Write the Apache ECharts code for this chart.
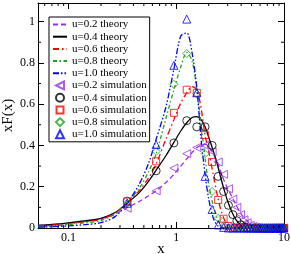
<!DOCTYPE html>
<html><head><meta charset="utf-8">
<script src="https://cdn.jsdelivr.net/npm/echarts@6/dist/echarts.min.js"></script>
<style>html,body{margin:0;padding:0;background:#fff}#c{width:291px;height:254px}</style>
</head><body><div id="c"></div>
<script>
const X_MIN = 0.052, X_MAX = 10, Y_MIN = 0, Y_MAX = 1.09;

const xTheory = [0.052,0.07,0.1,0.14,0.2,0.27,0.35,0.45,0.55,0.65,0.8,0.95,1.1,1.25,1.4,1.55,1.7,1.85,2.0,2.2,2.4,2.6,2.8,3.0,3.3,3.6,4.0,4.5,5.0,5.5,6.0,7.0,8.5,10];
const th02 = [0.012,0.016,0.023,0.032,0.045,0.068,0.098,0.128,0.155,0.18,0.22,0.26,0.30,0.335,0.365,0.39,0.40,0.405,0.395,0.36,0.32,0.27,0.225,0.19,0.15,0.11,0.068,0.036,0.016,0.007,0.003,0,0,0];
const th04 = [0.012,0.017,0.025,0.034,0.047,0.075,0.12,0.17,0.225,0.28,0.35,0.415,0.47,0.51,0.535,0.54,0.525,0.49,0.44,0.375,0.31,0.24,0.18,0.13,0.075,0.038,0.014,0.003,0,0,0,0,0,0];
const th06 = [0.01,0.014,0.021,0.03,0.042,0.072,0.125,0.18,0.24,0.31,0.43,0.525,0.605,0.655,0.685,0.67,0.58,0.45,0.37,0.26,0.16,0.085,0.04,0.015,0.003,0,0,0,0,0,0,0,0,0];
const th08 = [0.007,0.01,0.016,0.025,0.036,0.068,0.125,0.19,0.27,0.36,0.53,0.67,0.78,0.85,0.81,0.67,0.5,0.34,0.21,0.11,0.045,0.015,0.004,0,0,0,0,0,0,0,0,0,0,0];
const th10 = [0.004,0.006,0.01,0.016,0.026,0.055,0.12,0.21,0.31,0.43,0.585,0.77,0.93,0.945,0.85,0.68,0.43,0.26,0.14,0.05,0.013,0.003,0,0,0,0,0,0,0,0,0,0,0,0];

const xSim = [0.35,0.65,0.95,1.25,1.55,1.85,2.15,2.45,2.75,3.05,3.35,3.65,3.95,4.25,4.55,4.85,5.15,5.45,5.75,6.05,6.35,6.65,6.95,7.25,7.55,7.85,8.15,8.45,8.75,9.05,9.35,9.65,9.95];
const sim02 = [0.096,0.18,0.29,0.36,0.39,0.40,0.37,0.32,0.26,0.19,0.14,0.10,0.065,0.04,0.025,0.013,0.007,0.003,0.001,0,0,0,0,0,0,0,0,0,0,0,0,0,0];
const sim04 = [0.13,0.277,0.412,0.52,0.49,0.49,0.40,0.25,0.177,0.11,0.065,0.035,0.015,0.005,0.001,0,0,0,0,0,0,0,0,0,0,0,0,0,0,0,0,0,0];
const sim06 = [0.128,0.323,0.558,0.67,0.655,0.45,0.32,0.136,0.045,0.01,0.002,0,0,0,0,0,0,0,0,0,0,0,0,0,0,0,0,0,0,0,0,0,0];
const sim08 = [0.12,0.371,0.696,0.845,0.65,0.36,0.177,0.047,0.01,0.002,0,0,0,0,0,0,0,0,0,0,0,0,0,0,0,0,0,0,0,0,0,0,0];
const sim10 = [0.12,0.404,0.788,1.012,0.655,0.25,0.09,0.015,0.003,0,0,0,0,0,0,0,0,0,0,0,0,0,0,0,0,0,0,0,0,0,0,0,0];

const xMinorTicks = [0.06,0.07,0.08,0.09,0.2,0.3,0.4,0.5,0.6,0.7,0.8,0.9,2,3,4,5,6,7,8,9];
const yMinorTicks = [0.1,0.3,0.5,0.7,0.9];

const theoryNames = ['u=0.2 theory','u=0.4 theory','u=0.6 theory','u=0.8 theory','u=1.0 theory'];
const simNames = ['u=0.2 simulation','u=0.4 simulation','u=0.6 simulation','u=0.8 simulation','u=1.0 simulation'];
const colors = ['#9b30e8','#000000','#ff0000','#20a020','#0000ff'];
const dashes = [[5,3],'solid',[6,3,1.5,3],[4,2.5,1.5,2.5],[6,2,1.5,2,1.5,2]];
const symbols = ['path://M10,0 L0,5 L10,10 Z','circle','rect','diamond','triangle'];
const symSizes = [8,8,7,8,8];
// legend sample shapes, framed in a 14x8 box so they are not stretched
const legendSymbols = [
  'path://M0,0 M14,8 M11,0 L3,4 L11,8 Z',
  'path://M0,0 M14,8 M3,4 A4,4 0 1,0 11,4 A4,4 0 1,0 3,4 Z',
  'path://M0,0 M14,8 M3.5,0.5 L10.5,0.5 L10.5,7.5 L3.5,7.5 Z',
  'path://M0,0 M14,8 M7,0 L11,4 L7,8 L3,4 Z',
  'path://M0,0 M14,8 M7,0 L11,8 L3,8 Z'
];
const theoryData = [th02,th04,th06,th08,th10];
const simData = [sim02,sim04,sim06,sim08,sim10];

const FONT = '"Liberation Serif", "Times New Roman", serif';
const zip = (xs, ys) => xs.map((x, i) => [x, ys[i]]);
const CLEAR = 'rgba(0,0,0,0)';

const series = [];
theoryData.forEach((ys, i) => {
  series.push({
    name: theoryNames[i], type: 'line', data: zip(xTheory, ys),
    showSymbol: false, symbol: 'none', smooth: 0.3, z: 3,
    lineStyle: { color: colors[i], width: 1.3, type: dashes[i] },
    itemStyle: { color: colors[i] }
  });
});
simData.forEach((ys, i) => {
  series.push({
    name: simNames[i], type: 'scatter', data: zip(xSim, ys),
    symbol: symbols[i], symbolSize: symSizes[i], z: 4,
    itemStyle: { color: 'rgba(255,255,255,0)', borderColor: colors[i], borderWidth: 1 }
  });
});
series.push({
  type: 'custom', silent: true, z: 5,
  data: xMinorTicks.map(v => [v, Y_MIN]),
  renderItem: (params, api) => {
    const v = api.value(0);
    const b = api.coord([v, Y_MIN]), t = api.coord([v, Y_MAX]);
    const st = { stroke: '#000', lineWidth: 1 };
    return { type: 'group', children: [
      { type: 'line', shape: { x1: b[0], y1: b[1], x2: b[0], y2: b[1] - 3 }, style: st },
      { type: 'line', shape: { x1: t[0], y1: t[1], x2: t[0], y2: t[1] + 3 }, style: st }
    ]};
  }
});
series.push({
  type: 'custom', silent: true, z: 5,
  data: yMinorTicks.map(v => [1, v]),
  renderItem: (params, api) => {
    const v = api.value(1);
    const l = api.coord([X_MIN, v]), r = api.coord([X_MAX, v]);
    const st = { stroke: '#000', lineWidth: 1 };
    return { type: 'group', children: [
      { type: 'line', shape: { x1: l[0], y1: l[1], x2: l[0] + 3, y2: l[1] }, style: st },
      { type: 'line', shape: { x1: r[0], y1: r[1], x2: r[0] - 3, y2: r[1] }, style: st }
    ]};
  }
});

const hiddenIcon = { color: CLEAR, borderColor: CLEAR, borderWidth: 0 };
const legendData = theoryNames.map(n => ({ name: n, itemStyle: hiddenIcon }))
  .concat(simNames.map((n, i) => ({ name: n, icon: legendSymbols[i] })));

const axisLine = { show: true, onZero: false, lineStyle: { color: '#000', width: 1 } };
const tick = { show: true, inside: true, length: 6, lineStyle: { color: '#000', width: 1 } };

const chart = echarts.init(document.getElementById('c'), null, { renderer: 'canvas' });
chart.setOption({
  animation: false,
  backgroundColor: '#fff',
  grid: { left: 38, right: 7, top: 3, bottom: 26, containLabel: false, outerBoundsMode: 'none' },
  legend: {
    orient: 'vertical', left: 49, top: 17, z: 6,
    data: legendData,
    itemWidth: 14, itemHeight: 8, itemGap: 1.2,
    padding: [2, 3, 2, 3],
    backgroundColor: '#fff', borderColor: '#000', borderWidth: 1, borderRadius: 0,
    textStyle: { fontFamily: FONT, fontSize: 11, color: '#000' },
    selectedMode: false
  },
  xAxis: [
    { type: 'log', min: X_MIN, max: X_MAX, position: 'bottom',
      name: 'x', nameLocation: 'middle', nameGap: 14, nameMoveOverlap: false,
      nameTextStyle: { fontFamily: FONT, fontSize: 15, color: '#000' },
      axisLine, axisTick: tick, splitLine: { show: false }, minorTick: { show: false },
      axisLabel: { fontFamily: FONT, fontSize: 12, color: '#000', margin: 4, showMinLabel: false } },
    { type: 'log', min: X_MIN, max: X_MAX, position: 'top',
      axisLine, axisTick: tick, splitLine: { show: false },
      axisLabel: { show: false } }
  ],
  yAxis: [
    { type: 'value', min: Y_MIN, max: Y_MAX, interval: 0.2, position: 'left',
      name: 'xF(x)', nameLocation: 'middle', nameGap: 22, nameRotate: 90, nameMoveOverlap: false,
      nameTextStyle: { fontFamily: FONT, fontSize: 15, color: '#000' },
      axisLine, axisTick: tick, splitLine: { show: false },
      axisLabel: { fontFamily: FONT, fontSize: 12, color: '#000', margin: 3, showMaxLabel: false } },
    { type: 'value', min: Y_MIN, max: Y_MAX, interval: 0.2, position: 'right',
      axisLine, axisTick: tick, splitLine: { show: false },
      axisLabel: { show: false } }
  ],
  series
});
</script></body></html>
